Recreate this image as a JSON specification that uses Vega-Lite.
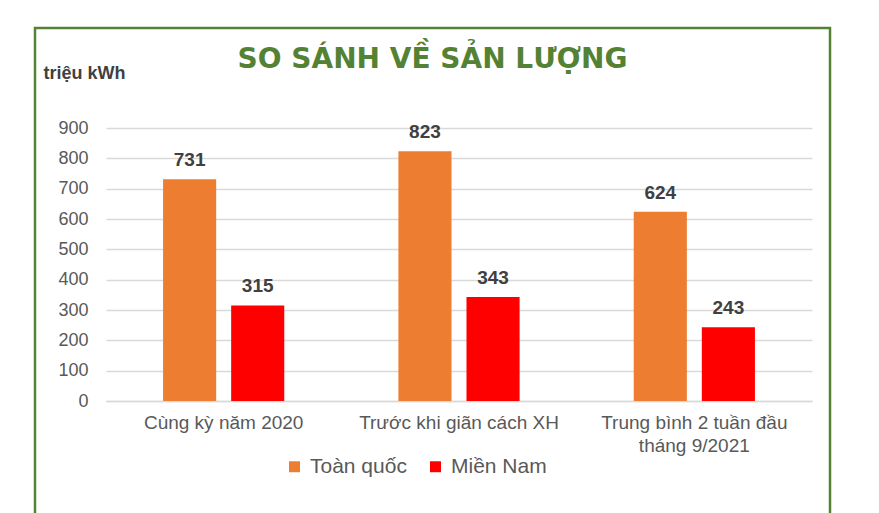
{
  "$schema": "https://vega.github.io/schema/vega-lite/v6.json",
  "autosize": "none",
  "padding": {"left": 35, "top": 28, "right": 49, "bottom": 0},
  "width": 795,
  "height": 490,
  "background": "white",
  "title": {
    "text": "SO SÁNH VỀ SẢN LƯỢNG",
    "font": "DejaVu Sans",
    "fontSize": 28,
    "fontWeight": "bold",
    "color": "#548235",
    "anchor": "middle",
    "frame": "group",
    "baseline": "alphabetic",
    "offset": -41,
    "dy": 27
  },
  "data": {
    "values": [
      {"ky": "Cùng kỳ năm 2020", "khu_vuc": "Toàn quốc", "san_luong": 731},
      {"ky": "Cùng kỳ năm 2020", "khu_vuc": "Miền Nam", "san_luong": 315},
      {"ky": "Trước khi giãn cách XH", "khu_vuc": "Toàn quốc", "san_luong": 823},
      {"ky": "Trước khi giãn cách XH", "khu_vuc": "Miền Nam", "san_luong": 343},
      {"ky": "Trung bình 2 tuần đầu tháng 9/2021", "khu_vuc": "Toàn quốc", "san_luong": 624},
      {"ky": "Trung bình 2 tuần đầu tháng 9/2021", "khu_vuc": "Miền Nam", "san_luong": 243}
    ]
  },
  "encoding": {
    "x": {
      "field": "ky",
      "type": "nominal",
      "sort": null,
      "scale": {"range": [71, 777], "paddingInner": 0.485, "paddingOuter": 0.2425},
      "axis": {
        "title": null,
        "orient": "bottom",
        "offset": -117,
        "domainColor": "#d9d9d9",
        "domainWidth": 1.3,
        "ticks": false,
        "labelPadding": 12,
        "labelAngle": 0,
        "labelBaseline": "top",
        "labelFont": "Liberation Sans",
        "labelFontSize": 19,
        "labelColor": "#595959",
        "labelLineHeight": 23,
        "labelLimit": 300,
        "labelExpr": "datum.value == 'Trung bình 2 tuần đầu tháng 9/2021' ? ['Trung bình 2 tuần đầu', 'tháng 9/2021'] : datum.value"
      }
    },
    "xOffset": {
      "field": "khu_vuc",
      "type": "nominal",
      "sort": ["Toàn quốc", "Miền Nam"],
      "scale": {"paddingInner": 0.22}
    },
    "y": {
      "field": "san_luong",
      "type": "quantitative",
      "scale": {"domain": [0, 900], "range": [373, 100], "nice": false},
      "axis": {
        "title": "triệu kWh",
        "titleAngle": 0,
        "titleAlign": "left",
        "titleBaseline": "middle",
        "titleX": -53,
        "titleY": 45,
        "titleFont": "Liberation Sans",
        "titleFontSize": 18,
        "titleFontWeight": "bold",
        "titleColor": "#404040",
        "offset": -61,
        "domain": false,
        "ticks": false,
        "labelPadding": 8,
        "values": [0, 100, 200, 300, 400, 500, 600, 700, 800, 900],
        "labelFont": "Liberation Sans",
        "labelFontSize": 18,
        "labelColor": "#595959",
        "gridColor": "#d9d9d9",
        "gridWidth": 1.3
      }
    }
  },
  "layer": [
    {
      "mark": {"type": "bar"},
      "encoding": {
        "color": {
          "field": "khu_vuc",
          "type": "nominal",
          "scale": {"domain": ["Toàn quốc", "Miền Nam"], "range": ["#ed7d31", "#ff0000"]},
          "legend": {
            "orient": "none",
            "legendX": 249,
            "legendY": 428,
            "direction": "horizontal",
            "title": null,
            "symbolType": "square",
            "symbolSize": 120,
            "symbolStrokeWidth": 0,
            "labelFont": "Liberation Sans",
            "labelFontSize": 21,
            "labelColor": "#595959",
            "labelOffset": 5,
            "columnPadding": 18
          }
        }
      }
    },
    {
      "mark": {
        "type": "text",
        "font": "Liberation Sans",
        "fontSize": 19,
        "fontWeight": "bold",
        "color": "#404040",
        "baseline": "alphabetic",
        "dy": -13
      },
      "encoding": {
        "text": {"field": "san_luong", "type": "quantitative"}
      }
    }
  ],
  "config": {
    "view": {"stroke": "#548235", "strokeWidth": 2.5}
  }
}
